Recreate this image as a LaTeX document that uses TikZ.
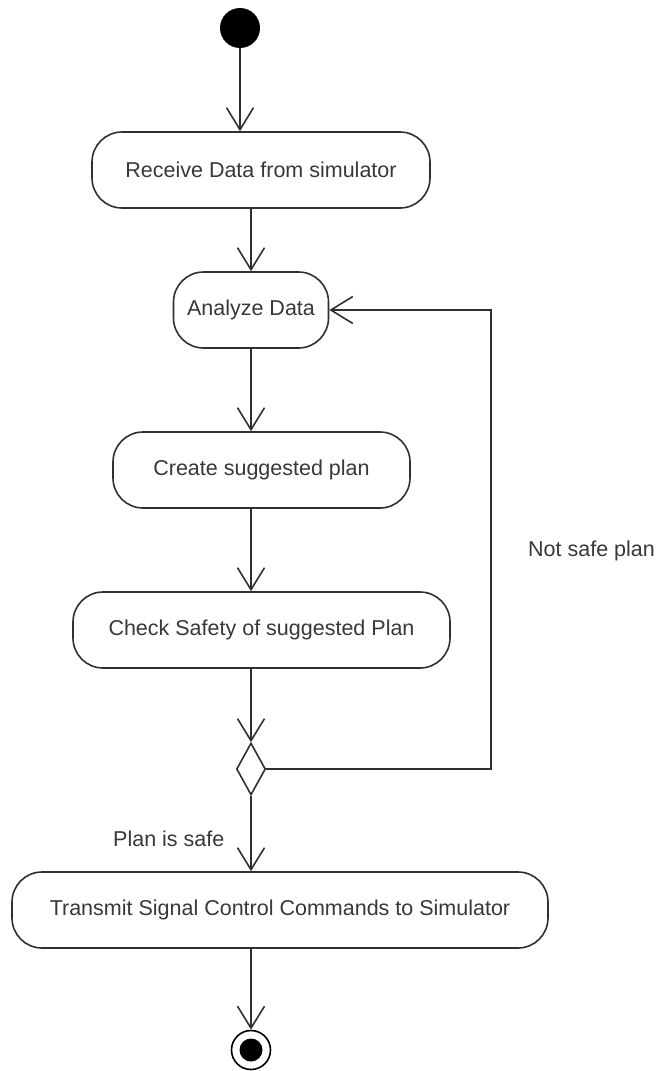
\documentclass[tikz,border=0pt]{standalone}
\usepackage{fontspec}
\setmainfont{Liberation Sans}
\usetikzlibrary{arrows.meta,shapes.geometric}
\definecolor{lc}{HTML}{303030}
\definecolor{tc}{HTML}{383838}
\begin{document}
\begin{tikzpicture}[x=1pt,y=-1pt,
  act/.style={draw=lc, line width=1.6pt, rounded corners=30pt, inner sep=0pt,
    minimum height=76pt, font=\fontsize{21.5}{25}\selectfont, text=tc},
  lbl/.style={inner sep=0pt, font=\fontsize{21.5}{25}\selectfont, text=tc},
  flow/.style={draw=lc, line width=1.6pt,
    -{Straight Barb[length=22pt,width=27pt,line width=1.6pt]}},
  startnode/.style={circle, fill=black, inner sep=0pt, minimum size=40pt},
  endnode/.style={circle, draw=black, line width=1.6pt, inner sep=0pt, minimum size=39pt,
    path picture={\fill[black] (path picture bounding box.center) circle (11.5pt);}},
  decision/.style={diamond, draw=lc, line width=1.6pt, inner sep=0pt,
    minimum width=29pt, minimum height=52pt}]
\useasboundingbox (0,0) rectangle (659,1071);
\fill[white] (0,0) rectangle (659,1071);

\node[startnode] (start) at (240,28) {};
\node[act, minimum width=338pt] (recv) at (261,170) {Receive Data from simulator};
\node[act, minimum width=155pt] (anal) at (251,310) {Analyze Data};
\node[act, minimum width=297pt] (create) at (261.5,470) {Create suggested plan};
\node[act, minimum width=377pt] (check) at (261.5,630) {Check Safety of suggested Plan};
\node[decision] (dec) at (251,769) {};
\node[act, minimum width=536pt] (trans) at (280,910) {Transmit Signal Control Commands to Simulator};
\node[endnode] (end) at (251,1050) {};

\node[lbl, anchor=base west] (notsafe) at (528,556) {Not safe plan};
\node[lbl, anchor=base west] (safe) at (113,846) {Plan is safe};

\coordinate (loopx) at (491,540);

\draw[flow] (start.south) -- (start.south |- recv.north);
\draw[flow] (dec.north |- recv.south) -- (dec.north |- anal.north);
\draw[flow] (dec.north |- anal.south) -- (dec.north |- create.north);
\draw[flow] (dec.north |- create.south) -- (dec.north |- check.north);
\draw[flow] (dec.north |- check.south) -- (dec.north);
\draw[flow] (dec.south) -- (dec.south |- trans.north);
\draw[flow] (end.north |- trans.south) -- (end.north);
\draw[flow] (dec.east) -| (loopx) |- (anal.east);
\end{tikzpicture}
\end{document}
